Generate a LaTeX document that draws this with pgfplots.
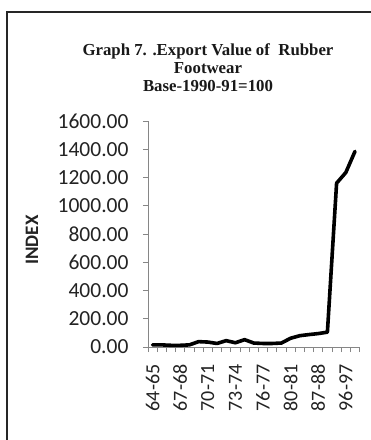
\documentclass[border=0pt]{standalone}
\usepackage{fontspec}
\setmainfont{Carlito}
\newfontfamily\titlefont{Liberation Serif}
\usepackage{pgfplots}
\pgfplotsset{compat=1.18}
\definecolor{axgray}{RGB}{134,134,134}
\definecolor{lblgray}{RGB}{35,35,35}
\begin{document}
\begin{tikzpicture}[x=1pt,y=1pt]
\useasboundingbox (0,0) rectangle (371,440);
\fill[white] (0,0) rectangle (371,440);
\draw[line width=1.1pt, black!85] (7,-2) -- (7,428) -- (373,428);
\node[font=\titlefont\bfseries\fontsize{16.8}{18}\selectfont, align=center, text=black!90] at (208,372) {Graph 7. .Export Value of\ \ Rubber\\Footwear\\Base-1990-91=100};
\node[font=\bfseries\fontsize{19}{19}\selectfont, rotate=90, text=lblgray] at (32,200) {INDEX};
\begin{axis}[
  at={(148pt,93pt)}, anchor=south west,
  scale only axis, width=211.6pt, height=226pt,
  xmin=-0.5, xmax=22.5, ymin=0, ymax=1600,
  clip=false,
  axis lines=left,
  axis line style={-, draw=axgray, line width=0.8pt},
  tick align=outside,
  major tick length=5pt,
  tick style={draw=axgray, line width=0.8pt},
  ytick={0,200,...,1600},
  yticklabels={0.00,200.00,400.00,600.00,800.00,1000.00,1200.00,1400.00,1600.00},
  y tick label style={font=\fontsize{21.5}{21.5}\selectfont, text=lblgray, xshift=-11pt},
  xtick={-0.5,0.5,...,22.5},
  xticklabels={},
  extra x ticks={0,3,6,9,12,15,18,21},
  extra x tick labels={64-65,67-68,70-71,73-74,76-77,80-81,87-88,96-97},
  extra x tick style={major tick length=0pt},
  x tick label style={yshift=-14pt, rotate=90, anchor=east, font=\fontsize{20}{20}\selectfont, text=lblgray},
]
\addplot[black, line width=3.6pt, line join=round, line cap=round] coordinates {
(0,15) (1,15) (2,12) (3,12) (4,15) (5,38) (6,35) (7,25) (8,45) (9,30) (10,52) (11,28) (12,25) (13,25) (14,28) (15,62) (16,80) (17,88) (18,95) (19,105) (20,1160) (21,1235) (22,1385)
};
\end{axis}
\end{tikzpicture}
\end{document}
